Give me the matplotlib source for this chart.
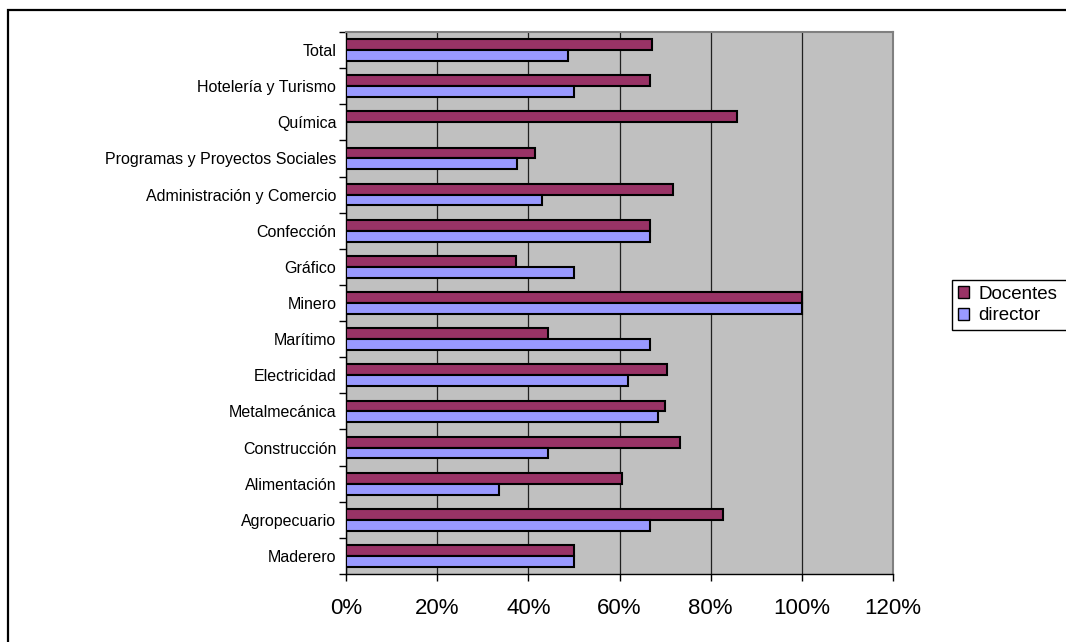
import matplotlib
matplotlib.use("Agg")
import matplotlib.pyplot as plt
from matplotlib.patches import Rectangle
from matplotlib.ticker import FixedLocator, PercentFormatter
import numpy as np

plt.rcParams['font.family'] = ['Liberation Sans', 'DejaVu Sans']

# Categories listed bottom to top
categories = ["Maderero", "Agropecuario", "Alimentación", "Construcción",
              "Metalmecánica", "Electricidad", "Marítimo", "Minero", "Gráfico",
              "Confección", "Administración y Comercio",
              "Programas y Proyectos Sociales", "Química",
              "Hotelería y Turismo", "Total"]
docentes = [50.0, 82.7, 60.5, 73.3, 70.0, 70.4, 44.3, 100.0, 37.3,
            66.7, 71.8, 41.5, 85.7, 66.7, 67.1]
director = [50.0, 66.7, 33.6, 44.3, 68.5, 61.9, 66.7, 100.0, 50.0,
            66.7, 43.0, 37.6, 0.0, 50.0, 48.6]
x_ticks = [0, 20, 40, 60, 80, 100, 120]
series_names = ["Docentes", "director"]
colors = ["#993366", "#9999FF"]

W, H = 1066, 642
fig = plt.figure(figsize=(W / 100, H / 100), dpi=100)

# outer chart frame (clipped at right and bottom)
fig.patches.append(Rectangle((8 / W, -0.2), 1.2, 1 - 10 / H + 0.2,
                             transform=fig.transFigure, fill=False,
                             edgecolor="black", linewidth=1.6))

ax = fig.add_axes([346 / W, 1 - 574 / H, (893 - 346) / W, (574 - 32) / H])
ax.set_facecolor("#C0C0C0")

y = np.arange(len(categories))
h = 0.3
b1 = ax.barh(y + h / 2, docentes, height=h, color=colors[0], edgecolor="black",
             linewidth=1.5, label=series_names[0], zorder=3)
b2 = ax.barh(y - h / 2, director, height=h, color=colors[1], edgecolor="black",
             linewidth=1.5, label=series_names[1], zorder=3)

ax.set_xlim(0, 120)
ax.set_ylim(-0.5, len(categories) - 0.5)
ax.set_xticks(x_ticks)
ax.xaxis.set_major_formatter(PercentFormatter(decimals=0))
ax.xaxis.grid(True, color="#202020", linewidth=0.9, zorder=1)
ax.set_axisbelow(True)

ax.set_yticks(y)
ax.set_yticklabels(categories, fontsize=11.5)
ax.yaxis.set_minor_locator(FixedLocator(np.arange(-0.5, len(categories), 1)))
ax.tick_params(axis="y", which="major", length=0, pad=7)
ax.tick_params(axis="y", which="minor", length=5, width=1, direction="out")
ax.tick_params(axis="x", which="major", length=5, width=1, direction="out",
               labelsize=16, pad=12)

for s in ["top", "right"]:
    ax.spines[s].set_color("#808080")
    ax.spines[s].set_linewidth(1.5)
for s in ["left", "bottom"]:
    ax.spines[s].set_color("black")
    ax.spines[s].set_linewidth(1.0)

# legend box (extends past the right edge of the picture)
fig.patches.append(Rectangle((952 / W, 1 - 330 / H), 0.2, 50 / H,
                             transform=fig.transFigure, fill=True,
                             facecolor="white", edgecolor="black",
                             linewidth=1.0, zorder=5))
leg = fig.legend(handles=[b1, b2], labels=series_names, loc="lower left",
                 bbox_to_anchor=(952 / W, 1 - 330 / H), borderaxespad=0,
                 fontsize=13.5, frameon=False, handlelength=0.6,
                 handleheight=0.6, handletextpad=0.5, borderpad=0.3,
                 labelspacing=0.25)
leg.set_zorder(6)
for hnd in leg.legend_handles:
    hnd.set_linewidth(1.0)

fig.savefig("out.png", dpi=100, facecolor="white")
